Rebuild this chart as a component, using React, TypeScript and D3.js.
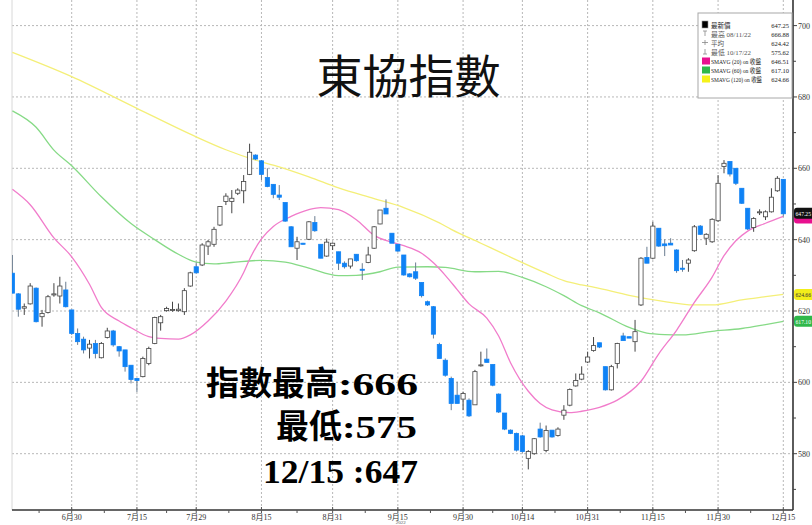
import React from 'react';
import * as d3 from 'd3';

const W = 812;
const H = 525;

// OHLC, one per trading day from 2022-06-16 to 2022-12-15
const opens = [
  630.6, 624.8, 620.8, 622.0, 626.4, 618.4, 619.6, 624.5, 624.2, 625.9,
  620.3, 613.7, 612.1, 609.6, 610.9, 606.9, 612.6, 614.4, 610.0, 609.1,
  604.8, 601.1, 601.6, 605.3, 610.9, 616.7, 620.1, 620.2, 620.1, 619.8,
  627.0, 632.4, 632.9, 638.2, 638.7, 644.1, 650.7, 650.7, 653.0, 653.7,
  658.3, 663.7, 662.1, 657.4, 655.5, 652.5, 650.4, 643.6, 637.6, 639.0,
  640.1, 644.8, 638.7, 635.4, 638.3, 636.6, 633.4, 632.6, 635.9, 631.7,
  633.6, 637.6, 644.4, 648.8, 641.8, 638.7, 635.7, 630.4, 631.0, 628.0,
  622.6, 621.2, 610.6, 606.2, 601.1, 596.4, 595.3, 595.0, 593.7, 604.8,
  606.5, 605.0, 596.7, 591.4, 586.6, 585.7, 585.0, 578.7, 580.0, 586.9,
  580.9, 586.6, 585.1, 590.8, 593.6, 599.0, 600.9, 605.7, 608.9, 611.1,
  604.4, 597.9, 605.3, 613.0, 612.8, 611.4, 621.7, 635.0, 634.8, 643.2,
  638.8, 639.0, 637.1, 632.0, 633.4, 636.9, 643.8, 640.4, 639.4, 645.3,
  660.5, 661.9, 660.0, 654.4, 648.8, 643.4, 647.6, 646.4, 647.8, 653.7,
  656.9,
];
const highs = [
  635.7, 625.0, 622.1, 627.8, 626.6, 620.3, 624.5, 627.8, 629.6, 628.2,
  620.3, 615.1, 612.8, 611.9, 611.9, 611.3, 615.3, 614.7, 610.2, 609.1,
  604.8, 601.1, 607.2, 610.0, 618.4, 618.9, 621.2, 622.6, 622.1, 626.4,
  631.0, 633.6, 639.0, 639.9, 643.6, 649.4, 653.0, 653.9, 654.4, 658.1,
  666.9, 663.9, 662.3, 660.0, 655.5, 655.3, 650.4, 643.8, 640.8, 639.1,
  645.2, 646.6, 638.7, 640.3, 639.2, 636.6, 633.9, 634.6, 635.9, 633.4,
  638.0, 643.8, 648.3, 651.3, 641.8, 638.7, 635.7, 630.6, 633.6, 628.0,
  622.9, 621.4, 611.1, 606.7, 601.6, 600.2, 597.4, 595.5, 603.5, 608.6,
  609.5, 605.0, 596.9, 591.4, 586.8, 585.9, 585.3, 581.0, 584.4, 588.7,
  587.9, 586.6, 587.4, 593.6, 598.3, 602.5, 604.5, 608.6, 612.7, 611.1,
  604.4, 604.9, 611.1, 613.9, 612.8, 617.5, 635.1, 638.0, 645.0, 643.2,
  640.1, 640.4, 637.3, 634.3, 634.8, 644.1, 644.1, 641.8, 646.0, 658.1,
  662.3, 662.0, 660.0, 654.4, 648.8, 646.3, 648.5, 648.2, 654.4, 657.8,
  656.9,
];
const lows = [
  625.0, 618.4, 618.9, 621.8, 616.8, 615.6, 619.3, 624.0, 622.1, 621.0,
  613.3, 610.5, 608.1, 606.7, 606.7, 606.7, 612.3, 610.0, 607.2, 603.0,
  599.7, 597.3, 601.4, 604.8, 610.7, 614.5, 619.8, 619.8, 619.8, 618.9,
  626.8, 630.5, 632.6, 635.7, 638.0, 643.8, 649.7, 647.4, 652.5, 650.2,
  658.1, 662.3, 656.7, 654.7, 651.6, 651.1, 645.0, 638.0, 634.3, 638.6,
  639.9, 642.2, 634.8, 635.2, 637.1, 631.5, 631.9, 631.9, 633.8, 628.7,
  633.4, 637.4, 644.3, 647.2, 639.0, 636.6, 629.9, 629.4, 628.7, 623.8,
  621.4, 612.3, 606.7, 601.6, 592.2, 594.1, 592.2, 590.3, 593.7, 604.4,
  605.6, 598.9, 591.4, 586.6, 585.5, 580.6, 580.3, 575.6, 579.7, 584.5,
  580.4, 584.5, 584.8, 589.5, 593.3, 598.8, 600.6, 605.4, 608.6, 609.6,
  597.7, 597.7, 603.9, 611.7, 612.4, 608.6, 621.4, 633.4, 634.5, 638.0,
  635.4, 638.5, 630.7, 631.0, 631.0, 636.6, 641.3, 638.5, 639.1, 645.0,
  658.6, 657.7, 655.3, 650.0, 642.7, 642.2, 646.9, 645.5, 647.6, 653.4,
  646.5,
];
const closes = [
  625.0, 620.5, 621.2, 627.0, 617.0, 619.3, 624.0, 624.8, 627.0, 621.2,
  613.7, 611.4, 609.1, 610.7, 608.1, 610.9, 614.4, 610.5, 608.8, 604.4,
  600.8, 600.5, 606.7, 609.5, 618.2, 618.4, 620.7, 620.4, 620.5, 625.7,
  630.7, 630.7, 638.5, 639.4, 642.9, 649.3, 652.2, 651.6, 653.9, 656.3,
  664.5, 662.6, 658.3, 654.9, 652.7, 651.9, 645.2, 638.0, 639.4, 638.7,
  645.0, 642.5, 634.8, 639.3, 639.0, 633.4, 632.4, 634.6, 634.1, 631.5,
  635.7, 643.6, 648.3, 647.2, 639.0, 636.8, 630.1, 629.6, 629.2, 624.3,
  621.7, 613.5, 606.7, 602.0, 594.1, 594.1, 596.9, 590.6, 603.0, 604.9,
  605.6, 599.2, 591.7, 586.9, 585.7, 581.0, 580.6, 580.6, 584.2, 584.7,
  586.5, 584.7, 586.9, 592.2, 598.0, 600.5, 602.3, 607.1, 610.3, 609.9,
  597.9, 604.4, 610.9, 611.7, 612.4, 614.2, 634.8, 633.4, 643.8, 638.2,
  638.3, 638.5, 631.3, 631.7, 634.3, 643.6, 641.5, 641.5, 645.7, 655.8,
  661.4, 658.4, 655.8, 650.2, 643.0, 645.9, 647.8, 647.8, 651.9, 657.2,
  647.25,
];

// Moving averages at sample candle indices
const sma20K = [0, 3, 7, 10, 13, 15, 18, 20, 23, 25, 28, 30, 33, 36, 39, 40, 42, 44, 47, 50, 52, 55, 58, 61, 64, 66, 69, 71, 73, 75, 77, 80, 82, 84, 87, 89, 91, 94, 96, 99, 102, 106, 109, 112, 115, 118, 120, 122, 124, 127, 130];
const sma20V = [654.1, 649.8, 640.5, 635.2, 627.5, 621.0, 617.2, 615.3, 612.8, 612.3, 612.1, 613.3, 617.2, 622.8, 630.8, 634.5, 640.2, 643.7, 646.5, 648.4, 649.0, 648.4, 645.6, 641.2, 639.3, 638.3, 636.2, 633.5, 630.0, 626.0, 622.0, 618.0, 613.0, 605.5, 597.5, 594.1, 592.3, 591.5, 591.9, 593.0, 595.0, 600.3, 608.0, 614.6, 622.4, 629.5, 635.5, 639.7, 642.4, 644.6, 646.51];
const sma60K = [0, 4, 7, 10, 15, 20, 24, 28, 31, 34, 37, 42, 46, 50, 55, 58, 62, 65, 70, 73, 78, 82, 86, 90, 93, 96, 99, 104, 107, 110, 113, 118, 123, 127, 130];
const sma60V = [676.1, 671.5, 665.1, 660.7, 652.0, 644.5, 640.0, 635.9, 633.7, 633.2, 633.6, 634.2, 633.7, 632.0, 629.9, 630.0, 631.0, 632.3, 632.4, 632.2, 631.0, 631.1, 629.4, 626.8, 624.3, 621.5, 619.5, 615.4, 613.8, 613.4, 613.3, 614.3, 615.1, 616.2, 617.1];
const sma120K = [0, 10, 21, 31, 36, 42, 44, 50, 55, 61, 66, 72, 74, 79, 84, 90, 93, 96, 98, 104, 109, 115, 118, 123, 127, 130];
const sma120V = [692.5, 685.7, 676.8, 668.8, 665.2, 661.8, 660.9, 657.6, 654.5, 651.5, 649.0, 644.7, 642.9, 639.0, 635.1, 630.6, 628.5, 627.3, 626.7, 624.4, 622.9, 621.7, 621.7, 623.1, 624.0, 624.66];

const xTickDates = ['2022-06-30', '2022-07-15', '2022-07-29', '2022-08-15', '2022-08-31', '2022-09-15', '2022-09-30', '2022-10-14', '2022-10-31', '2022-11-15', '2022-11-30', '2022-12-15'];
const xTickLabels = ['6月30', '7月15', '7月29', '8月15', '8月31', '9月15', '9月30', '10月14', '10月31', '11月15', '11月30', '12月15'];
const yTicks = [580, 600, 620, 640, 660, 680, 700];
const yMinorTicks = [570, 590, 610, 630, 650, 670, 690];

const legendLabels = ['最新價', '最高 08/11/22', '平均', '最低 10/17/22', 'SMAVG (20) on 收盤', 'SMAVG (60) on 收盤', 'SMAVG (120) on 收盤'];
const legendLabelWidths = [0, 40, 0, 40, 50, 50, 51];
const legendValues = ['647.25', '666.88', '624.42', '575.62', '646.51', '617.10', '624.66'];

const title = '東協指數';
const noteCjk = ['指數最高', '最低', ''];
const noteNum = [':666', ':575', '12/15 :647'];

const BLUE = '#0f82f5';
const PINK = '#f17ccb';
const GREEN = '#86da86';
const YELLOW = '#f4ef78';

export default function App() {
  const tradingDays = d3.timeDay
    .range(new Date(2022, 5, 16), new Date(2022, 11, 16))
    .filter((d) => d.getDay() !== 0 && d.getDay() !== 6);
  const fmt = d3.timeFormat('%Y-%m-%d');
  const dayKeys = tradingDays.map(fmt);

  const left = 12;
  const right = 793;
  const top = 0;
  const bottom = 510;

  const x = d3.scaleLinear().domain([10, 130]).range([71.7, 783.3]);
  const y = d3.scaleLinear().domain([580, 700]).range([453.7, 25.6]);

  const tickIdx = xTickDates.map((d) => dayKeys.indexOf(d));
  const tickX = tickIdx.map((i) => x(i));
  const minorX = tickX.map((tx, i) => (i === 0 ? tx - (tickX[1] - tickX[0]) / 2 : (tx + tickX[i - 1]) / 2));

  const lineGen = d3
    .line<[number, number]>()
    .x((d) => x(d[0]))
    .y((d) => y(d[1]))
    .curve(d3.curveMonotoneX);
  const ma = (ks: number[], vs: number[]) => lineGen(ks.map((k, i) => [k, vs[i]] as [number, number])) || '';

  const bw = 4.2;
  const serif = "'Liberation Serif', 'Noto Sans CJK TC', serif";
  const cjk = "'Noto Sans CJK TC', 'Noto Sans CJK SC', sans-serif";

  const tagY = (v: number) => y(v);

  return (
    <svg width={W} height={H} style={{ position: 'absolute', left: 0, top: 0, background: '#fff' }}>
      <defs>
        <clipPath id="plot">
          <rect x={left} y={top} width={right - left} height={bottom - top} />
        </clipPath>
      </defs>
      <rect x={0} y={0} width={W} height={H} fill="#fff" />

      {/* grid */}
      <g stroke="#b8b8b8" strokeWidth={1} strokeDasharray="2,2">
        {yTicks.map((t) => (
          <line key={'hy' + t} x1={left} x2={right} y1={y(t)} y2={y(t)} />
        ))}
        {tickX.map((tx, i) => (
          <line key={'vx' + i} x1={tx} x2={tx} y1={top} y2={bottom} />
        ))}
      </g>
      <line x1={left} x2={left} y1={top} y2={bottom} stroke="#d8d8d8" strokeWidth={1} />

      <g clipPath="url(#plot)">
        {/* moving averages */}
        <path d={ma(sma120K, sma120V)} fill="none" stroke={YELLOW} strokeWidth={1.3} />
        <path d={ma(sma60K, sma60V)} fill="none" stroke={GREEN} strokeWidth={1.3} />
        <path d={ma(sma20K, sma20V)} fill="none" stroke={PINK} strokeWidth={1.3} />

        {/* candles */}
        {closes.map((c, i) => {
          const o = opens[i];
          const up = c >= o;
          const cx = x(i);
          const yt = y(Math.max(o, c));
          const yb = y(Math.min(o, c));
          const h = Math.max(1, yb - yt);
          return (
            <g key={'c' + i}>
              <line x1={cx} x2={cx} y1={y(highs[i])} y2={y(lows[i])} stroke={up ? '#444' : '#6b7d90'} strokeWidth={1} />
              <rect
                x={cx - bw / 2}
                y={yt}
                width={bw}
                height={h}
                fill={up ? '#fff' : BLUE}
                stroke={up ? '#444' : BLUE}
                strokeWidth={0.8}
              />
            </g>
          );
        })}
      </g>

      {/* x axis */}
      <line x1={left} x2={right} y1={bottom} y2={bottom} stroke="#333" strokeWidth={1.6} />
      {tickX.map((tx, i) => (
        <g key={'xt' + i}>
          <line x1={tx} x2={tx} y1={bottom - 3} y2={bottom + 3} stroke="#555" strokeWidth={1} />
          <text x={tx} y={519.5} fontSize={8} fontFamily={serif} fill="#333" textAnchor="middle">
            {xTickLabels[i]}
          </text>
        </g>
      ))}
      {minorX.map((mx, i) => (
        <line key={'mx' + i} x1={mx} x2={mx} y1={bottom} y2={bottom + 3} stroke="#555" strokeWidth={1} />
      ))}
      <text x={tickX[5] + 3} y={524} fontSize={5} fontFamily={serif} fill="#555" textAnchor="middle">
        2022
      </text>

      {/* y axis */}
      <line x1={right} x2={right} y1={top} y2={bottom} stroke="#333" strokeWidth={1.6} />
      {yTicks.map((t) => (
        <g key={'yt' + t}>
          <line x1={right} x2={right + 4} y1={y(t)} y2={y(t)} stroke="#444" strokeWidth={1} />
          <text x={right + 5} y={y(t) + 3} fontSize={8} fontFamily={serif} fill="#333">
            {t}
          </text>
        </g>
      ))}
      {yMinorTicks.map((t) => (
        <line key={'ym' + t} x1={right} x2={right + 3} y1={y(t)} y2={y(t)} stroke="#444" strokeWidth={1} />
      ))}

      {/* value tags */}
      <rect x={right + 1} y={tagY(646.51) - 4} width={22} height={11} rx={3} fill="#e8108f" />
      <rect x={right + 1} y={tagY(647.25) - 6} width={22} height={11} rx={3} fill="#111" />
      <text x={right + 2.5} y={tagY(647.25) + 2} fontSize={6.5} fontFamily={serif} fill="#fff" textLength={15.5} lengthAdjust="spacingAndGlyphs">
        647.25
      </text>
      <rect x={right + 1} y={tagY(624.66) - 5.5} width={22} height={11} rx={3} fill="#f2ee1a" />
      <text x={right + 2.5} y={tagY(624.66) + 2.5} fontSize={6.5} fontFamily={serif} fill="#333" textLength={15.5} lengthAdjust="spacingAndGlyphs">
        624.66
      </text>
      <rect x={right + 1} y={tagY(617.1) - 5.5} width={22} height={11} rx={3} fill="#2fb84a" />
      <text x={right + 2.5} y={tagY(617.1) + 2.5} fontSize={6.5} fontFamily={serif} fill="#fff" textLength={15.5} lengthAdjust="spacingAndGlyphs">
        617.10
      </text>

      {/* legend */}
      <rect x={698} y={13} width={94} height={85} fill="#fff" stroke="#a8a8a8" strokeWidth={1} />
      {legendLabels.map((lab, i) => {
        const ly = 25 + i * 9;
        let icon: React.ReactNode = null;
        if (i === 0) icon = <rect x={702} y={ly - 4} width={6} height={7} fill="#000" stroke="#999" strokeWidth={0.6} />;
        else if (i === 1)
          icon = (
            <g stroke="#888" strokeWidth={0.8}>
              <line x1={703} x2={707} y1={ly - 3} y2={ly - 3} />
              <line x1={705} x2={705} y1={ly - 3} y2={ly + 2} />
            </g>
          );
        else if (i === 2)
          icon = (
            <g stroke="#888" strokeWidth={0.8}>
              <line x1={702} x2={708} y1={ly - 0.5} y2={ly - 0.5} />
              <line x1={705} x2={705} y1={ly - 3} y2={ly + 2} />
            </g>
          );
        else if (i === 3)
          icon = (
            <g stroke="#888" strokeWidth={0.8}>
              <line x1={703} x2={707} y1={ly + 2} y2={ly + 2} />
              <line x1={705} x2={705} y1={ly - 3} y2={ly + 2} />
            </g>
          );
        else {
          const col = i === 4 ? '#e8108f' : i === 5 ? '#2fb84a' : '#f5f21a';
          icon = <rect x={702} y={ly - 3.5} width={8} height={7} fill={col} />;
        }
        const tl = legendLabelWidths[i];
        return (
          <g key={'lg' + i}>
            {icon}
            <text
              x={711}
              y={ly + 2.5}
              fontSize={6.5}
              fontFamily={serif}
              fill={i >= 1 && i <= 3 ? '#555' : '#222'}
              {...(tl ? { textLength: tl, lengthAdjust: 'spacingAndGlyphs' } : {})}
            >
              {lab}
            </text>
            <text x={789} y={ly + 2.5} fontSize={6.5} fontFamily={serif} fill="#222" textAnchor="end">
              {legendValues[i]}
            </text>
          </g>
        );
      })}

      {/* title */}
      <text x={408.5} y={93} fontSize={46} fontFamily={cjk} fill="#111" textAnchor="middle">
        {title}
      </text>

      {/* annotations */}
      <text x={338} y={395} fontSize={33} fontFamily={cjk} fontWeight={700} fill="#000" textAnchor="end">
        {noteCjk[0]}
      </text>
      <text x={338} y={395} fontSize={31} fontFamily={serif} fontWeight={700} fill="#000" textLength={80} lengthAdjust="spacingAndGlyphs">
        {noteNum[0]}
      </text>
      <text x={342} y={437.5} fontSize={33} fontFamily={cjk} fontWeight={700} fill="#000" textAnchor="end">
        {noteCjk[1]}
      </text>
      <text x={342} y={437.5} fontSize={31} fontFamily={serif} fontWeight={700} fill="#000" textLength={75} lengthAdjust="spacingAndGlyphs">
        {noteNum[1]}
      </text>
      <text x={263} y={483} fontSize={34} fontFamily={serif} fontWeight={700} fill="#000" textLength={155} lengthAdjust="spacingAndGlyphs">
        {noteNum[2]}
      </text>
    </svg>
  );
}
